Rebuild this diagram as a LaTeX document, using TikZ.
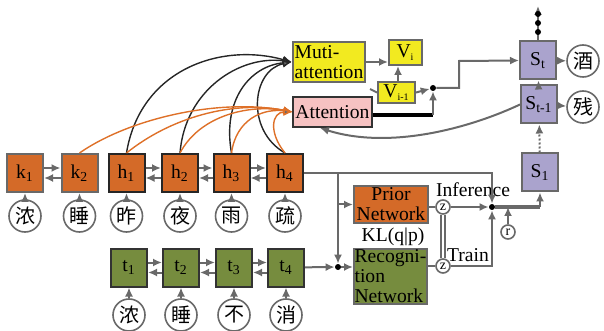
\documentclass[tikz,border=0pt]{standalone}
\usepackage{fontspec}
\setmainfont{Liberation Serif}
\newfontfamily\cjk{Noto Sans CJK SC}
\usepackage{xcolor}
\usetikzlibrary{arrows.meta}

\definecolor{encorange}{RGB}{212,106,40}
\definecolor{decgreen}{RGB}{118,140,62}
\definecolor{statepurple}{RGB}{170,163,205}
\definecolor{attyellow}{RGB}{242,234,32}
\definecolor{attpink}{RGB}{246,194,194}
\definecolor{linegray}{RGB}{105,105,105}
\definecolor{arcorange}{RGB}{222,112,40}

\begin{document}
\begin{tikzpicture}[>={Latex[length=4.5pt,width=4pt]},x=0.5pt,y=-0.5pt,
  font=\fontsize{9.8}{10}\selectfont,
  kbox/.style={draw=linegray,line width=1pt,fill=encorange,minimum width=18pt,minimum height=19pt,inner sep=0pt},
  hbox/.style={kbox,draw=black!85},
  tbox/.style={kbox,draw=black!80,fill=decgreen},
  sbox/.style={kbox,fill=statepurple},
  word/.style={circle,draw=linegray,line width=0.8pt,fill=white,minimum size=16pt,inner sep=0pt,font=\cjk\fontsize{10}{10}\selectfont},
  small/.style={circle,draw=linegray,line width=0.8pt,fill=white,minimum size=7pt,inner sep=0pt,font=\fontsize{7}{7}\selectfont},
  mdot/.style={circle,fill=black,minimum size=3pt,inner sep=0pt},
  gline/.style={draw=linegray,line width=1pt},
  garrow/.style={gline,->},
  blackarc/.style={draw=black!85,line width=0.7pt,-{Latex[length=4.5pt,width=4pt,fill=linegray]}},
  orangearc/.style={draw=arcorange,line width=0.7pt,-{Latex[length=4.5pt,width=4pt,fill=linegray]}}]

\useasboundingbox (0,0) rectangle (604,331);

% NODES

% Encoder boxes.
\node[kbox] (k1) at (25,173) {k\textsubscript{1}};
\node[kbox] (k2) at (79.5,173) {k\textsubscript{2}};
\node[hbox] (h1) at (126.5,173) {h\textsubscript{1}};
\node[hbox] (h2) at (180,173) {h\textsubscript{2}};
\node[hbox] (h3) at (231.5,173) {h\textsubscript{3}};
\node[hbox] (h4) at (285,173) {h\textsubscript{4}};

% Encoder words.
\node[word] (wk1) at (25,216) {浓};
\node[word] (wk2) at (79.5,216) {睡};
\node[word] (wh1) at (126.5,216) {昨};
\node[word] (wh2) at (180,216) {夜};
\node[word] (wh3) at (231.5,216) {雨};
\node[word] (wh4) at (285,216) {疏};

% Target boxes.
\node[tbox] (t1) at (129,267.5) {t\textsubscript{1}};
\node[tbox] (t2) at (181,267.5) {t\textsubscript{2}};
\node[tbox] (t3) at (234,267.5) {t\textsubscript{3}};
\node[tbox] (t4) at (286,267.5) {t\textsubscript{4}};

% Target words.
\node[word] (wt1) at (129,315) {浓};
\node[word] (wt2) at (181,315) {睡};
\node[word] (wt3) at (234,315) {不};
\node[word] (wt4) at (286,315) {消};

% Attention.
\node[draw=linegray,line width=1pt,fill=attyellow,minimum width=35pt,minimum height=20pt,inner sep=1pt,align=left] (multi) at (329,62) {Muti-\\attention};
\node[draw=black!80,line width=1pt,fill=attpink,minimum width=38.5pt,minimum height=15pt,inner sep=1pt] (att) at (332.5,112) {Attention};
\node[draw=linegray,line width=1pt,fill=attyellow,minimum width=16.5pt,minimum height=12.5pt,inner sep=0pt] (vi) at (405.5,52.5) {V\textsubscript{\fontsize{5}{5}\selectfont i}};
\node[draw=linegray,line width=1pt,fill=attyellow,minimum width=18.5pt,minimum height=10.5pt,inner sep=0pt] (vim) at (396.5,92.5) {V\textsubscript{\fontsize{5}{5}\selectfont i-1}};
\node[mdot] (vdot) at (433,88) {};
\coordinate (vstub) at (370,89);
\coordinate (attcorner) at (433,115);
\coordinate (vbend) at (459,61);
\coordinate (attin) at (320,128);

% Latent part.
\node[draw=linegray,line width=1pt,fill=encorange,minimum width=37pt,minimum height=18.5pt,inner sep=0pt,align=center] (prior) at (391,204.5) {Prior\\Network};
\node[draw=linegray,line width=1pt,fill=decgreen,minimum width=36.5pt,minimum height=27.5pt,inner sep=0pt,align=left] (recog) at (390.5,276.5) {Recogni-\\tion\\Network};
\node (kl) at (393,237) {KL(q|p)};
\node[small] (zp) at (443,207) {z};
\node[small] (zr) at (443,266) {z};
\node[small] (r) at (508,232) {r};
\node[mdot] (inf) at (492,207) {};
\node[mdot] (rdot) at (338,267) {};
\node (inftext) at (473,190) {Inference};
\node (traintext) at (468,255) {Train};
\coordinate (br) at (338,174);

% Decoder states.
\node[sbox] (s1) at (540,172.5) {S\textsubscript{1}};
\node[sbox] (stm) at (539,104.5) {S\textsubscript{t-1}};
\node[sbox] (st) at (538,60.5) {S\textsubscript{t}};
\node[word] (wjiu) at (583,61) {酒};
\node[word] (wcan) at (583,107) {残};
\coordinate (sttop) at (538,6);
\coordinate (join) at (540,207);

% CONNECTIONS

% Words -> boxes.
\draw[garrow] (wk1) -- (k1);
\draw[garrow] (wk2) -- (k2);
\draw[garrow] (wh1) -- (h1);
\draw[garrow] (wh2) -- (h2);
\draw[garrow] (wh3) -- (h3);
\draw[garrow] (wh4) -- (h4);
\draw[garrow] (wt1) -- (t1);
\draw[garrow] (wt2) -- (t2);
\draw[garrow] (wt3) -- (t3);
\draw[garrow] (wt4) -- (t4);

% Box <-> box.
\draw[garrow] ([yshift=2.5pt]k1.east) -- ([yshift=2.5pt]k2.west);
\draw[garrow] ([yshift=-2.5pt]k2.west) -- ([yshift=-2.5pt]k1.east);
\draw[garrow] ([yshift=2.5pt]h1.east) -- ([yshift=2.5pt]h2.west);
\draw[garrow] ([yshift=-2.5pt]h2.west) -- ([yshift=-2.5pt]h1.east);
\draw[garrow] ([yshift=2.5pt]h2.east) -- ([yshift=2.5pt]h3.west);
\draw[garrow] ([yshift=-2.5pt]h3.west) -- ([yshift=-2.5pt]h2.east);
\draw[garrow] ([yshift=2.5pt]h3.east) -- ([yshift=2.5pt]h4.west);
\draw[garrow] ([yshift=-2.5pt]h4.west) -- ([yshift=-2.5pt]h3.east);
\draw[garrow] ([yshift=2.5pt]t1.east) -- ([yshift=2.5pt]t2.west);
\draw[garrow] ([yshift=-2.5pt]t2.west) -- ([yshift=-2.5pt]t1.east);
\draw[garrow] ([yshift=2.5pt]t2.east) -- ([yshift=2.5pt]t3.west);
\draw[garrow] ([yshift=-2.5pt]t3.west) -- ([yshift=-2.5pt]t2.east);
\draw[garrow] ([yshift=2.5pt]t3.east) -- ([yshift=2.5pt]t4.west);
\draw[garrow] ([yshift=-2.5pt]t4.west) -- ([yshift=-2.5pt]t3.east);

% Encoder -> multi-attention.
\draw[blackarc] (h1.north) .. controls (140,70) and (220,42) .. (multi.west);
\draw[blackarc] (h2.north) .. controls (185,90) and (240,55) .. (multi.west);
\draw[blackarc] (h3.north) .. controls (222,100) and (250,66) .. (multi.west);
\draw[blackarc] (h4.north) .. controls (245,130) and (252,70) .. (multi.west);

% Encoder -> attention.
\draw[orangearc] (k2.north) .. controls (130,118) and (220,98) .. (att.west);
\draw[orangearc] (h1.north) .. controls (170,118) and (232,100) .. (att.west);
\draw[orangearc] (h2.north) .. controls (200,115) and (250,104) .. (att.west);
\draw[orangearc] (h3.north) .. controls (236,120) and (262,108) .. (att.west);
\draw[orangearc] (h4.north) .. controls (268,132) and (272,112) .. (att.west);

% Attention -> decoder.
\draw[garrow] (multi.east) -- (vi.west |- multi.east);
\draw[garrow] (vim.north -| 398,0) -- (vi.south -| 398,0);
\draw[gline] (vstub) -- (vim.west);
\draw[garrow] (vim.east) -- (vdot);
\draw[line width=2pt] (att.east |- attcorner) -- (attcorner);
\draw[garrow] (attcorner) -- (vdot);
\draw[garrow] (vdot) -| (vbend) -- (st.west);
\draw[garrow] (stm.west) .. controls (470,128) and (390,150) .. (attin);

% Latent part.
\draw[garrow] (h4.east) -| (inf);
\draw[garrow] (br) -- (rdot);
\draw[garrow] (br |- prior.west) -- (prior.west);
\draw[garrow] (t4) -- (rdot);
\draw[garrow] (rdot) -- (recog.west |- rdot);
\draw[gline] (prior.east |- zp) -- (zp);
\draw[gline] (recog.east |- zr) -- (zr);
\draw[draw=linegray,line width=0.7pt,double=white,double distance=1.2pt] (zp) -- (zr);
\draw[garrow] (zp) -- (inf);
\draw[garrow] (zr) -| (inf);
\draw[draw=linegray,line width=2.2pt] (inf) -- (join);
\draw[garrow] (join) -- (s1.south);
\draw[garrow] (r) -- (r |- inf);

% Decoder.
\draw[garrow,densely dotted] (s1) -- (stm);
\draw[garrow] (stm) -- (st);
\draw[garrow] (st.north) -- (sttop);
\fill (538,14) circle (3);
\fill (538,23) circle (3);
\fill (538,32) circle (3);
\draw[garrow] (st) -- (wjiu);
\draw[garrow] (stm) -- (wcan);

\end{tikzpicture}
\end{document}
